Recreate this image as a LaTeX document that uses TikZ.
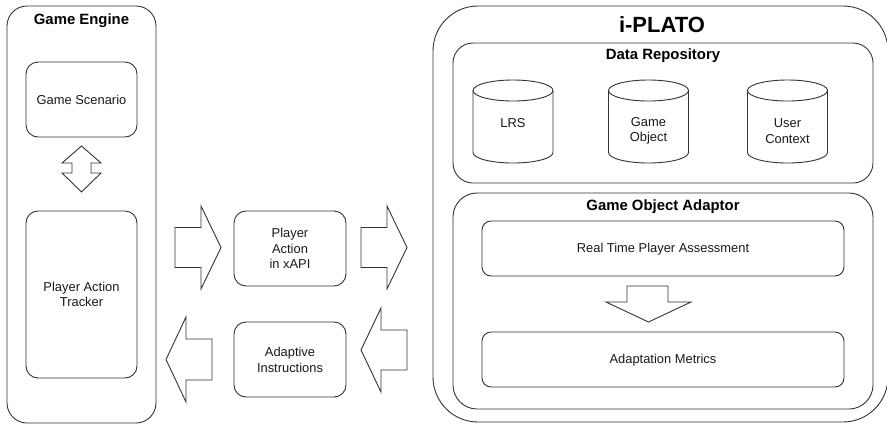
\documentclass[tikz,border=0pt]{standalone}
\usepackage{fontspec}
\setmainfont{Liberation Sans}
\begin{document}
\begin{tikzpicture}[x=1pt,y=-1pt,
  line width=0.9pt,
  ln/.style={draw=black!80},
  lbl/.style={text=black!90,font=\fontsize{12.9}{15.3}\selectfont,align=center,inner sep=0pt},
  ttl/.style={text=black,font=\fontsize{14.9}{17}\selectfont\bfseries,inner sep=0pt},
  bigttl/.style={text=black,font=\fontsize{22}{26}\selectfont\bfseries,inner sep=0pt},
  blk/.style={ln,fill=white,line join=miter}]
\useasboundingbox (0,0) rectangle (887,424);
\clip (0,0) rectangle (887,424);

% ---------- Game Engine ----------
\draw[ln,rounded corners=20pt] (7,6) rectangle (156,423);
\node[ttl] (ge) at (81.5,21) {Game Engine};
\draw[ln,rounded corners=12pt] (26,62) rectangle (137,137);
\node[lbl] (gs) at (81.5,99.5) {Game Scenario};
\draw[ln,rounded corners=12pt] (26,211) rectangle (137,378);
\node[lbl] (pat) at (81.5,294.5) {Player Action\\Tracker};
% two-way block arrow between scenario and tracker
\draw[blk] (81.5,146) -- (101,163) -- (91,163) -- (91,173) -- (101,173) -- (81.5,192)
  -- (62,173) -- (72,173) -- (72,163) -- (62,163) -- cycle;

% ---------- middle messages ----------
\draw[ln,rounded corners=12pt] (234,211) rectangle (346,286);
\node[lbl] (pax) at (290,248.5) {Player\\Action\\in xAPI};
\draw[ln,rounded corners=12pt] (234,322) rectangle (346,397);
\node[lbl] (ai) at (290,360) {Adaptive\\Instructions};

% block arrows
\draw[blk] (175,227.5) -- (201,227.5) -- (201,206) -- (221,247.5) -- (201,289)
  -- (201,267.5) -- (175,267.5) -- cycle;
\draw[blk] (361,227.5) -- (387,227.5) -- (387,206) -- (407,247.5) -- (387,289)
  -- (387,267.5) -- (361,267.5) -- cycle;
\draw[blk] (212,339) -- (186,339) -- (186,317) -- (166,359.5) -- (186,402)
  -- (186,380) -- (212,380) -- cycle;
\draw[blk] (407,330) -- (381,330) -- (381,308) -- (361,350) -- (381,392)
  -- (381,370) -- (407,370) -- cycle;

% ---------- i-PLATO ----------
\draw[ln,rounded corners=45pt] (433,6) rectangle (888,422);
\node[bigttl] (ip) at (662,25) {i-PLATO};

% Data Repository
\draw[ln,rounded corners=20pt] (453,43) rectangle (873,183);
\node[ttl] (dr) at (663,56) {Data Repository};
% storage cylinders
\foreach \cx in {513,648.5,787.5}{
  \draw[ln] (\cx-40,90.5) -- (\cx-40,152.5)
    arc[start angle=180,end angle=360,x radius=40pt,y radius=10.5pt] -- (\cx+40,90.5);
  \draw[ln] (\cx,90.5) ellipse [x radius=40pt,y radius=10.5pt];
}
\node[lbl] (lrs) at (513,123) {LRS};
\node[lbl] (gob) at (648.5,131) {Game\\Object};
\node[lbl] (uctx) at (787.5,131) {User\\Context};

% Game Object Adaptor
\draw[ln,rounded corners=24pt] (453,193) rectangle (873,409);
\node[ttl] (goa) at (663,207) {Game Object Adaptor};
\draw[ln,rounded corners=9pt] (482,221) rectangle (844,276);
\node[lbl] (rtpa) at (663,249) {Real Time Player Assessment};
\draw[ln,rounded corners=9pt] (482,332) rectangle (844,387);
\node[lbl] (am) at (663,360) {Adaptation Metrics};
\draw[blk] (627,286) -- (668,286) -- (668,302) -- (691,302) -- (648.5,322)
  -- (606,302) -- (627,302) -- cycle;
\end{tikzpicture}
\end{document}
